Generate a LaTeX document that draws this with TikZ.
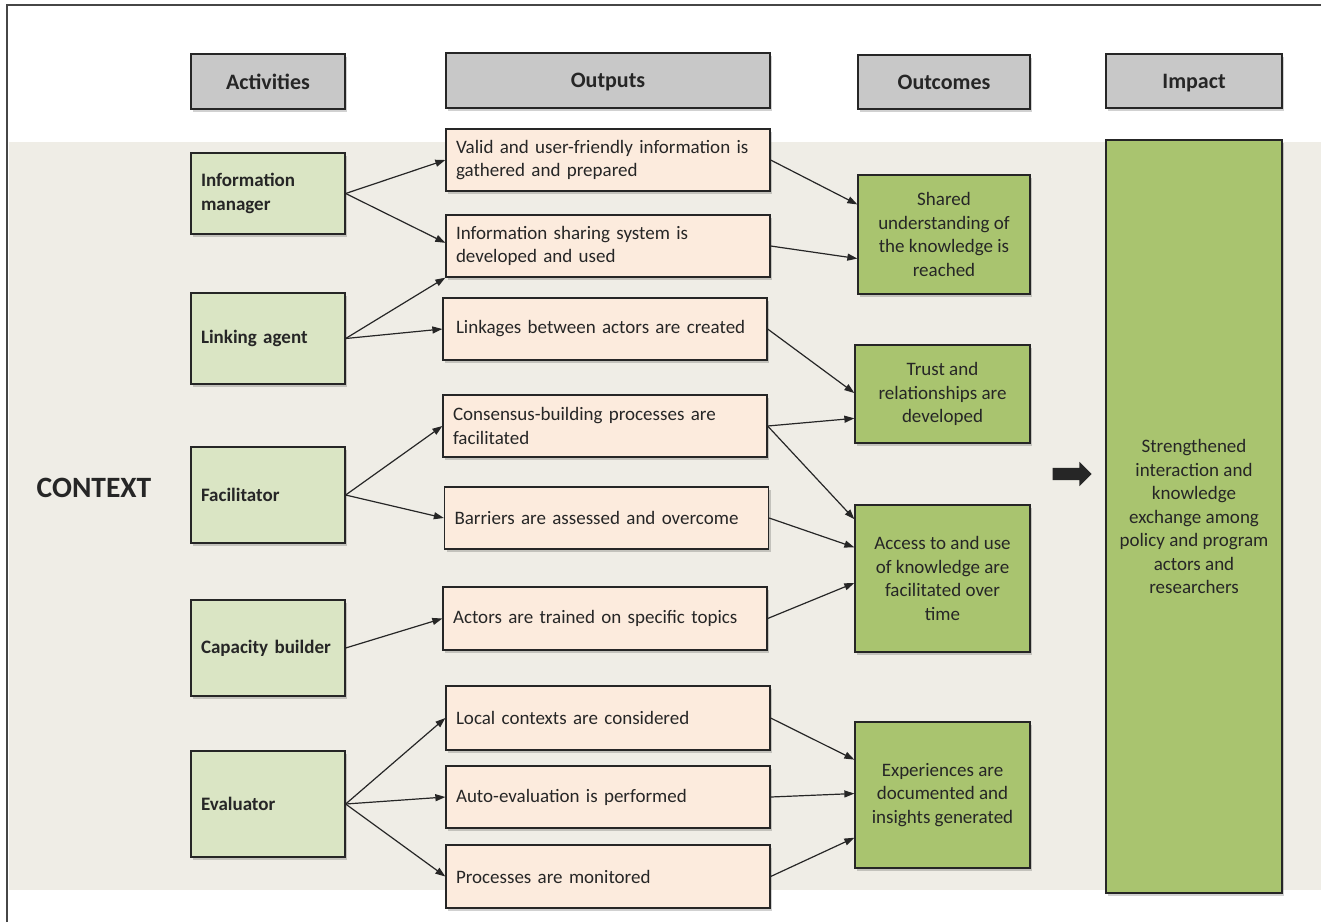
\documentclass[tikz,border=0pt]{standalone}
\usepackage{fontspec}
\setmainfont{Carlito}
\usetikzlibrary{arrows.meta,calc,shapes.arrows,shadows}
\definecolor{hdr}{HTML}{C8C8C8}
\definecolor{actg}{HTML}{DAE5C4}
\definecolor{peach}{HTML}{FCEBDD}
\definecolor{outg}{HTML}{A9C46F}
\definecolor{band}{HTML}{EFEDE6}
\definecolor{line}{HTML}{262626}
\definecolor{txt}{HTML}{262626}
\begin{document}
\begin{tikzpicture}[x=1pt,y=-1pt,
  every node/.style={text=txt, font=\fontsize{19}{23.5}\selectfont},
  base/.style={draw=line, line width=1.3pt, inner sep=0pt,
    drop shadow={shadow xshift=2pt, shadow yshift=-3pt, opacity=0.18, fill=black}},
  hdrbox/.style={base, fill=hdr, align=center, text depth=0pt, font=\bfseries\fontsize{22}{26}\selectfont},
  actbox/.style={base, fill=actg, text width=134pt, inner xsep=10pt, align=left,
    minimum width=154pt, font=\bfseries\fontsize{19}{23.5}\selectfont},
  outbox/.style={base, fill=peach, text width=304pt, inner xsep=10pt, align=left},
  outcbox/.style={base, fill=outg, align=center},
  conn/.style={draw=line, line width=1.2pt, -{Triangle[length=10pt,width=7pt]}},
]
\useasboundingbox (0,0) rectangle (1321,922);
\fill[white] (0,0) rectangle (1321,922);
\fill[band] (9,142) rectangle (1321,890);
\draw[line, line width=1.8pt, draw opacity=0.85] (7,922) -- (7,5) -- (1321,5);

% headers
\node[hdrbox, minimum width=154pt, minimum height=55pt] (hact) at (268,81.5) {Activities};
\node[hdrbox, minimum width=324pt, minimum height=55pt] (hout) at (608,80.5) {Outputs};
\node[hdrbox, minimum width=172pt, minimum height=54pt] (hoc) at (944,82) {Outcomes};
\node[hdrbox, minimum width=176pt, minimum height=54pt] (himp) at (1194,81) {Impact};

% context
\node[font=\bfseries\fontsize{29.5}{34}\selectfont] (ctx) at (94,488) {CONTEXT};

% activities
\node[actbox, minimum height=81pt] (a1) at (268,193.5) {Information\\manager};
\node[actbox, minimum height=91pt] (a2) at (268,338.5) {Linking agent};
\node[actbox, minimum height=96pt] (a3) at (268,495) {Facilitator};
\node[actbox, minimum height=96pt] (a4) at (268,648) {Capacity builder};
\node[actbox, minimum height=106pt] (a5) at (268,804) {Evaluator};

% outputs
\node[outbox, minimum height=62pt] (o1) at (608,160) {Valid and user-friendly information is\\gathered and prepared};
\node[outbox, minimum height=62pt] (o2) at (608,246) {Information sharing system is\\developed and used};
\node[outbox, minimum height=62pt] (o3) at (605,329) {\hspace*{3pt}Linkages between actors are created};
\node[outbox, minimum height=62pt] (o4) at (605,426) {Consensus-building processes are\\facilitated};
\node[outbox, minimum height=62pt] (o5) at (606.5,518) {Barriers are assessed and overcome};
\node[outbox, minimum height=63pt] (o6) at (605,618.5) {Actors are trained on specific topics};
\node[outbox, minimum height=64pt] (o7) at (608,718) {Local contexts are considered};
\node[outbox, minimum height=62pt] (o8) at (608,797) {Auto-evaluation is performed};
\node[outbox, minimum height=63pt] (o9) at (608,876.5) {Processes are monitored};

% outcomes
\node[outcbox, minimum width=172pt, minimum height=119pt] (c1) at (944,234.5) {Shared\\understanding of\\the knowledge is\\reached};
\node[outcbox, minimum width=175pt, minimum height=98pt] (c2) at (942.5,394) {Trust and\\relationships are\\developed};
\node[outcbox, minimum width=175pt, minimum height=147pt] (c3) at (942.5,578.5) {Access to and use\\of knowledge are\\facilitated over\\time};
\node[outcbox, minimum width=175pt, minimum height=146pt] (c4) at (942.5,795) {Experiences are\\documented and\\insights generated};

% impact
\node[outcbox, minimum width=176pt, minimum height=753pt] (imp) at (1194,516.5) {Strengthened\\interaction and\\knowledge\\exchange among\\policy and program\\actors and\\researchers};

% big arrow
\node[single arrow, fill=line, draw=none, inner sep=6pt, minimum height=39pt, outer sep=0pt,
      single arrow head extend=6pt] (bigarrow) at (1069,474) {};

% activity -> output
\draw[conn] (a1.east) -- ($(o1.north west)!0.5!(o1.south west)$);
\draw[conn] (a1.east) -- ($(o2.north west)!0.45!(o2.south west)$);
\draw[conn] (a2.east) -- (o2.south west);
\draw[conn] (a2.east) -- (o3.west);
\draw[conn] (a3.east) -- (o4.west);
\draw[conn] (a3.east) -- (o5.west);
\draw[conn] (a4.east) -- (o6.west);
\draw[conn] (a5.east) -- (o7.west);
\draw[conn] (a5.east) -- (o8.west);
\draw[conn] (a5.east) -- (o9.west);

% output -> outcome
\draw[conn] (o1.east) -- ($(c1.north west)!0.25!(c1.south west)$);
\draw[conn] (o2.east) -- ($(c1.north west)!0.70!(c1.south west)$);
\draw[conn] (o3.east) -- ($(c2.north west)!0.49!(c2.south west)$);
\draw[conn] (o4.east) -- ($(c2.north west)!0.745!(c2.south west)$);
\draw[conn] (o4.east) -- ($(c3.north west)!0.10!(c3.south west)$);
\draw[conn] (o5.east) -- ($(c3.north west)!0.29!(c3.south west)$);
\draw[conn] (o6.east) -- ($(c3.north west)!0.53!(c3.south west)$);
\draw[conn] (o7.east) -- ($(c4.north west)!0.26!(c4.south west)$);
\draw[conn] (o8.east) -- ($(c4.north west)!0.49!(c4.south west)$);
\draw[conn] (o9.east) -- ($(c4.north west)!0.79!(c4.south west)$);
\end{tikzpicture}
\end{document}
